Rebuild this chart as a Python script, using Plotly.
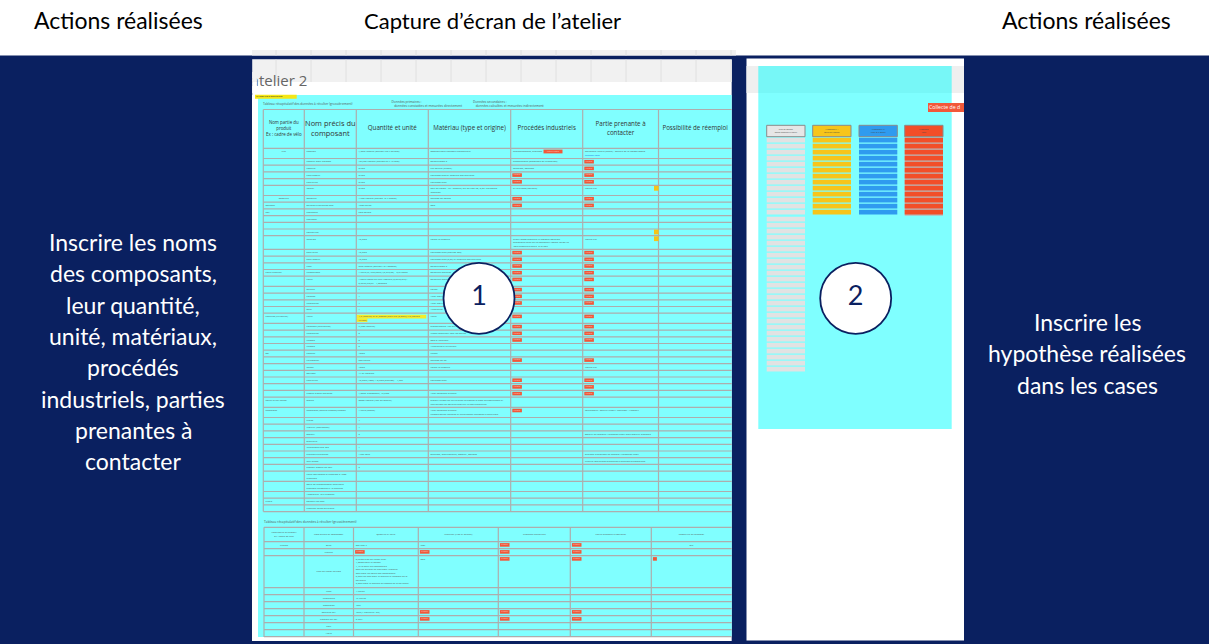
import plotly.graph_objects as go

# ---------------------------------------------------------------- data
slide_titles = ["Actions réalisées", "Capture d’écran de l’atelier", "Actions réalisées"]
left_text = ["Inscrire les noms", "des composants,", "leur quantité,", "unité, matériaux,",
             "procédés", "industriels, parties", "prenantes à", "contacter"]
right_text = ["Inscrire les", "hypothèse réalisées", "dans les cases"]
step_numbers = ["1", "2"]
screenshot_title = "atelier 2"
board_label = "MAISON DE SYSTÈME ÉCO"
table_caption = "Tableau récapitulatif des données à récolter (grossièrement)"
primary_note = ["Données primaires :", "= données constatées et mesurées directement"]
secondary_note = ["Données secondaires :", "= données calculées et mesurées indirectement"]
collect_label = "Collecte de d"

R = "[R]"  # "à récolter" marker
t1_headers = ["Nom partie du<br>produit<br>Ex : cadre de vélo", "Nom précis du<br>composant",
              "Quantité et unité", "Matériau (type et origine)", "Procédés industriels",
              "Partie prenante à<br>contacter", "Possibilité de réemploi"]
t1_rows = [
    ["Mur", "bambou", "1,9m2 linéaire (section 150 x 20 mm)", "Bambou pour bardage thermotraité", "Thermoformage, profilage [R]", "Bâtiments Valerie (Raffin) - Société de la Maison Écobo<br>[L]bambou.com"],
    ["", "réseaux pour bardage", "129,5m linéaire (section 27 x 45 mm)", "Épicéa classe 2", "Tradechnique (marquage ou exposition)", R],
    ["", "Lambris", "31m2", "Pin naturel (Russie)", "Rabotage, ponçage", R],
    ["", "Pare-vapeur", "31m2", "Polypropylène et chlorure polyéthylène", R, R],
    ["", "Pare-pluie", "31m2", "Polypropylène", R, R],
    ["", "Isolant", "31m2", "82% de Coton - lin - chanvre, 8% de liant PE, 0,3% traitement<br>fongicide", "D'Acte FDES (Isolfibre)", "Mathis Fils"],
    ["Ossature", "Ossature", "145m linéaire (section 45 x 95mm)", "Douglas ou épicéa", R, R],
    ["Bardage", "Entrées extérieures bois", "1530 unités", "Bois", R, R],
    ["Toit", "charpente", "bois épicéa", "", "", ""],
    ["", "chevrons", "", "", "", ""],
    ["", "", "", "", "", ""],
    ["", "couverture", "", "", "", ""],
    ["", "isolation", "12,5m2", "Coton lin chanvre", "https://www.ekodirect.fr/isolants/isolation-<br>ecologique/laine-de-lin/panneaux-isolant-coton-lin<br>-bois-chanvre.html?id=3134587", "Mathis Fils"],
    ["", "pare-pluie", "12,5m2", "Polypropylène (environ 3kg)", R, R],
    ["", "pare-vapeur", "12,5m2", "Polypropylène (0,06) et chlorure polyéthylène", R, R],
    ["", "liège", "27m linéaire (section 12 x 200mm)", "Épicéa classe 2", R, R],
    ["Porte d'entrée", "Chambranle", "1 unité (0,17*0,03*2)+(0,9*0,03) = 0,0173m3", "Épicéa ou Douglas", R, R],
    ["", "Porte", "1 porte isolée ou chez capucin (0,07*0,8*2)+<br>0,75*0,9*0,04= 1,0096m3", "Épicéa ou Douglas", R, R],
    ["", "Serrure", "1", "Laiton", R, R],
    ["", "Poignée", "4", "Acier inoxydable", R, R],
    ["", "Charnières", "4", "Acier inoxydable", R, R],
    ["", "Seuil", "1", "Aluminium", "", ""],
    ["Fenêtres (Ultrafiltre)", "Verre", "[Y]4,5 (fenêtre) et 04,800m2 (baie fixe (0,8m2)) x 3 (double<br>[Y]vitrage)", "Verre", R, R],
    ["", "Poignées (intérieures)", "7 (non fenêtré)", "probablement zinc ou acier", R, R],
    ["", "Charnières", "8", "Même matériaux que les portes", R, R],
    ["", "Chassis", "8", "Bois à l'intérieur", R, R],
    ["", "Chassis", "8", "Aluminium à l'extérieur", "", ""],
    ["Sol", "Parquet", "12m2", "Chêne", "", ""],
    ["", "lits parquet", "500 unités", "Douglas ou bd", R, R],
    ["", "isolant", "12m2", "Coton lin chanvre", "", "Mathis Fils"],
    ["", "Solivage", "41 m linéaires", "", "", ""],
    ["", "Pare-pluie", "12,5m2 (130g) + 3,6m2 (environ) = 1,6kg", "Polypropylène", R, R],
    ["", "", "", "", R, R],
    ["", "Plaque d'acier perforée", "1,2mm d'épaisseur, 12,5m2", "Acier galvanisé à chaud", R, R],
    ["Toute la tiny house", "Scotch", "300m linéaire (lien de largeur)", "produit à base de textile avec un adhésif à base de caoutchouc et<br>une surface en polyéthylène sur la face supérieure", "", ""],
    ["Remorque", "Remorque (dernier châssis) châssis", "1 unité (850kg)", "Acier galvanisé à chaud<br>Chassis soudé renforcé et entièrement galvanisé à plein bain.", R, "Fournisseur : OPTIMAUTO F. Fabricant : Vlemmix"],
    ["", "Freins", "4", "", "", ""],
    ["", "Moyeux (Roulement)", "4", "", "", ""],
    ["", "Essieux", "2", "", "", "Essieux de marque Allemande Knott avec moyeux standard"],
    ["", "Électricité", "", "", "", ""],
    ["", "Interphone vers des", "1", "", "", ""],
    ["", "système d'éclairage", "1 par roue", "Éclairage, Stabilisateurs, Bloquez, Équipés", "", "Système d'éclairage de marque Allemande Knott"],
    ["", "tout prises", "", "", "", "Circuits tous prises ordinaires à éclairage automatique"],
    ["", "support plaque de four", "2", "", "", ""],
    ["", "Nous fabriquons et stockage à 4RES<br>branches", "", "", "", ""],
    ["", "Boîte de raccordement électrique<br>standard européen à 13 broches", "", "", "", ""],
    ["", "Adaptateur 13/7 broches", "", "", "", ""],
    ["Pilotis", "poteaux de bois", "", "", "", ""],
    ["", "Plancher béton ou pierre", "", "", "", ""],
]
t1_centered_parts = ["Mur", "Ossature"]
t1_sticky_rows = [5, 11, 12]

t2_headers = ["Nom partie du produit<br>Ex : cadre de vélo", "Nom précis du composant", "Quantité et unité",
              "Matériau (type et origine)", "Procédés industriels", "Partie prenante à contacter",
              "Possibilité de réemploi"]
t2_rows = [
    ["Cuisine", "Evier", "Bac inox ?", "Inox", R, R, "Oui"],
    ["", "Meuble", R, R, R, R, ""],
    ["", "Plan de travail en bois",
     "0,65m2 plan de travail cuisi<br>1,28m2 pour la façade<br>1,1712 pour les rangements<br>8m2 de surface de bois pour l'escalier<br>2m2 pour les côtés des rangements<br>0,5m2 de bois pour le meuble et dessous de la<br>gazinière<br>2,2m2 pour le meuble au dessus de la gazinière",
     "Bois", R, R, "[r]"],
    ["", "Mats", "4 unités", "", "", "", ""],
    ["", "Charnières", "16 unités", "", "", "", ""],
    ["", "Rambarde", "1m2", "", "", "", ""],
    ["", "Bouteille gaz", "10kg (1 bouteille / an)", R, R, R, ""],
    ["", "Plaques feu gaz", "2 feux", R, R, R, ""],
    ["", "Four", "", "", "", "", ""],
    ["", "Hotte", "", "", "", "", ""],
]

hyp_headers = [["Type de donnée", "Donnée manquante à récolter"], ["Hypothèse n°1", "Source de la donnée"],
               ["Hypothèse n°2", "Valeur de la donnée"], ["Hypothèse", "Valeur"]]
hyp_row_counts = [39, 13, 13, 13]

# ---------------------------------------------------------------- style
W, H = 1209, 644
NAVY = "#0A2060"
CYAN = "#80FFFF"
GRID = "#ADADAD"
REDM = "#F2583A"
TXT = "#555555"
FONT_SMALL = "Open Sans"
FONT_SLIDE = "Lato"
SLIDE_SIZE = 23
TITLE_SIZES = [23, 22, 23]

shapes = []


def rect(x0, y0, x1, y1, fill, line=None, lw=0, opacity=1):
    d = dict(type="rect", xref="x", yref="y", x0=x0, y0=y0, x1=x1, y1=y1,
             fillcolor=fill, layer="below", opacity=opacity,
             line=dict(width=lw, color=line or fill))
    if lw == 0:
        d["line"] = dict(width=0)
    shapes.append(d)


def hline(x0, x1, y, color=GRID, w=1.2):
    shapes.append(dict(type="line", xref="x", yref="y", x0=x0, x1=x1, y0=y, y1=y,
                       layer="below", line=dict(color=color, width=w)))


def vline(x, y0, y1, color=GRID, w=1.2):
    shapes.append(dict(type="line", xref="x", yref="y", x0=x, x1=x, y0=y0, y1=y1,
                       layer="below", line=dict(color=color, width=w)))


tx, ty, tt, ts, tc, tp = [], [], [], [], [], []


def text(x, y, s, size=2.4, color=TXT, pos="middle right"):
    tx.append(x); ty.append(y); tt.append(s); ts.append(size); tc.append(color); tp.append(pos)


# ---------------------------------------------------------------- background
rect(0, 55.5, W, H, NAVY)
# screenshot 1
rect(252, 50, 736, 55.5, "#F1F1F1")
rect(252, 59.5, 731.7, 641, "white")
rect(252, 59.5, 731.7, 82, "#F1F1F1")
for gx in range(276, 732, 35):
    shapes.append(dict(type="line", xref="x", yref="y", x0=gx, x1=gx, y0=50, y1=55.5,
                       layer="below", line=dict(color="#E0E0E0", width=1)))
    vline(gx, 59.5, 82, "#E0E0E0", 1)
rect(258, 95, 731.7, 637, CYAN)
# screenshot 2
rect(746.5, 58.5, 964, 640.5, "white")
rect(746.5, 66, 964, 93, "#EFEFEF")
rect(758.3, 66, 951.7, 429, "rgba(0,255,255,0.5)")

# ---------------------------------------------------------------- table 1
T1_X = [263.3, 304.3, 356.3, 428.3, 510.7, 582.7, 658.5, 731.7]
T1_TOP, T1_HEAD = 109.5, 148.3
rect(255, 94.7, 296.7, 98.8, "#F5E616")
text(256, 96.8, board_label, 2.2, "#222222")
text(263, 104.5, table_caption, 3.2)
text(391.5, 101.8, primary_note[0], 3.2); text(391.5, 106.4, primary_note[1], 3.2)
text(473, 101.8, secondary_note[0], 3.2); text(473, 106.4, secondary_note[1], 3.2)


def nlines(row):
    return max(len(str(c).split("<br>")) for c in row)


def marker(x, y, w=9.6, h=3.6, label="à récolter"):
    rect(x, y, x + w, y + h, REDM)
    if label:
        text(x + w / 2, y + h / 2, label, 1.5, "#FFD8CC", "middle center")


def cell(col_x0, top, content, centered=False, height=None):
    if content == R:
        marker(col_x0 + 1.6, top + 1.4)
        return
    if content == "[r]":
        marker(col_x0 + 1.6, top + 1.4, 4, 3.6, "")
        return
    lines = content.split("<br>")
    for i, ln in enumerate(lines):
        color = TXT
        y = top + 3.4 + i * 3.5
        if ln.startswith("[Y]"):
            ln = ln[3:]
            rect(col_x0 + 0.5, y - 1.8, col_x0 + 1.5 + len(ln) * 1.2, y + 1.8, "#F5EC2A")
        if ln.startswith("[L]"):
            ln = ln[3:]
            color = "#1E6FE0"
        inline = ln.endswith(" " + R)
        if inline:
            ln = ln[: -len(R) - 1]
        if centered:
            xc = col_x0 + centered / 2
            if height is not None:
                y = top + height / 2 + (i - (len(lines) - 1) / 2) * 3.5
            text(xc, y, ln, 2.4, color, "middle center")
        else:
            text(col_x0 + 2.2, y, ln, 2.4, color)
        if inline:
            x0 = col_x0 + 4 + len(ln) * 1.2
            rect(x0, top + 1.3, x0 + 19, top + 5.1, REDM)
            text(x0 + 9.5, top + 3.2, "Analyse à récolter", 1.5, "#FFD8CC", "middle center")


# header
for j, h in enumerate(t1_headers):
    xc = (T1_X[j] + T1_X[j + 1]) / 2
    hl = h.split("<br>")
    size = 4.4 if j == 0 else (7.4 if j == 1 else 6.2)
    step = size * 1.35
    for i, ln in enumerate(hl):
        text(xc, (T1_TOP + T1_HEAD) / 2 + (i - (len(hl) - 1) / 2) * step, ln, size, "#333333",
             "middle center")

y = T1_HEAD
row_tops = []
for r, row in enumerate(t1_rows):
    h = 6.7 + 3.5 * (nlines(row) - 1)
    row_tops.append((y, h))
    y += h
T1_BOTTOM = y
hline(T1_X[0], T1_X[-1], T1_TOP)
hline(T1_X[0], T1_X[-1], T1_HEAD)
for (top, h) in row_tops:
    hline(T1_X[0], T1_X[-1], top + h)
for x in T1_X[:-1]:
    vline(x, T1_TOP, T1_BOTTOM)

for r, row in enumerate(t1_rows):
    top, h = row_tops[r]
    for j, c in enumerate(row):
        if c == "":
            continue
        if j == 0 and c in t1_centered_parts:
            cell(T1_X[0], top, c, centered=T1_X[1] - T1_X[0])
        else:
            cell(T1_X[j], top, c)
for r in t1_sticky_rows:
    top, h = row_tops[r]
    rect(654, top + 0.6, 658.6, top + 5.4, "#F5C518")

# ---------------------------------------------------------------- table 2
T2_X = [264, 304, 353.5, 418.3, 498.3, 570.3, 651.3, 731.7]
T2_TOP, T2_HEAD = 527.3, 541.7
text(264, 521.7, table_caption, 3.3)
for j, hd in enumerate(t2_headers):
    xc = (T2_X[j] + T2_X[j + 1]) / 2
    hl = hd.split("<br>")
    for i, ln in enumerate(hl):
        text(xc, (T2_TOP + T2_HEAD) / 2 + (i - (len(hl) - 1) / 2) * 3.4, ln, 2.4, TXT, "middle center")
y = T2_HEAD
t2_tops = []
for row in t2_rows:
    h = 7.0 + 3.57 * (nlines(row) - 1)
    t2_tops.append((y, h))
    y += h
hline(T2_X[0], T2_X[-1], T2_TOP)
hline(T2_X[0], T2_X[-1], T2_HEAD)
for (top, h) in t2_tops:
    if top + h <= 637:
        hline(T2_X[0], T2_X[-1], top + h)
for x in T2_X[:-1]:
    vline(x, T2_TOP, 637)
for r, row in enumerate(t2_rows):
    top, h = t2_tops[r]
    for j, c in enumerate(row):
        if c == "":
            continue
        if j in (0, 1) and c not in (R, "[r]"):
            cell(T2_X[j], top, c, centered=T2_X[j + 1] - T2_X[j], height=h)
        elif j == 6 and c not in (R, "[r]"):
            cell(T2_X[j], top, c, centered=T2_X[j + 1] - T2_X[j])
        else:
            cell(T2_X[j], top, c)

# ---------------------------------------------------------------- hypotheses board
rect(928, 103, 964, 112, "#F2583A")
text(929, 107.6, collect_label, 5.2, "white")
HX = [766.7, 812.7, 859.0, 904.7]
HW = 38.3
head_cols = ["#E6E6E6", "#F7C51A", "#2F9BEF", "#F24E28"]
row_cols = ["#E2E2E2", "#F7C51A", "#2F9BEF", "#F24E28"]
rect(HX[3], 137.5, HX[3] + HW, 215.8, "#B9B9B9")
for k in range(4):
    rect(HX[k], 125.3, HX[k] + HW, 136.7, head_cols[k], "#8A8A8A", 1)
    text(HX[k] + HW / 2, 129.6, hyp_headers[k][0], 1.9, "#444444", "middle center")
    text(HX[k] + HW / 2, 132.6, hyp_headers[k][1], 1.6, "#444444", "middle center")
    for i in range(hyp_row_counts[k]):
        y0 = 137.7 + 6.0 * i + (1.0 if i >= 13 else 0)
        rect(HX[k], y0, HX[k] + HW, y0 + 4.7, row_cols[k])

# ---------------------------------------------------------------- figure
fig = go.Figure()
fig.add_trace(go.Scatter(x=tx, y=ty, text=tt, mode="text", textposition=tp,
                         textfont=dict(size=ts, color=tc, family=FONT_SMALL),
                         hoverinfo="skip", showlegend=False, cliponaxis=False))
# workshop title, cropped on its left edge like the screenshot
fig.add_trace(go.Scatter(x=[250.6], y=[82.5], text=[screenshot_title], mode="text",
                         textposition="middle right",
                         textfont=dict(size=15, color="#666666", family=FONT_SMALL),
                         hoverinfo="skip", showlegend=False))
fig.add_trace(go.Scatter(x=[237, 252.2, 252.2, 237, 237], y=[56, 56, 95, 95, 56], mode="lines",
                         fill="toself", fillcolor=NAVY, line=dict(width=0),
                         hoverinfo="skip", showlegend=False))
fig.add_trace(go.Scatter(x=[252.2, 256.9, 256.9, 252.2, 252.2], y=[72, 72, 82, 82, 72], mode="lines",
                         fill="toself", fillcolor="#F1F1F1", line=dict(width=0),
                         hoverinfo="skip", showlegend=False))
fig.add_trace(go.Scatter(x=[252.2, 256.9, 256.9, 252.2, 252.2], y=[82, 82, 93, 93, 82], mode="lines",
                         fill="toself", fillcolor="white", line=dict(width=0),
                         hoverinfo="skip", showlegend=False))
# step circles
fig.add_trace(go.Scatter(x=[479, 855.7], y=[298.3, 298.3], mode="markers+text",
                         text=step_numbers, textposition="middle center",
                         textfont=dict(size=27, color=NAVY, family=FONT_SLIDE),
                         marker=dict(size=71, color="white", line=dict(color=NAVY, width=1.8)),
                         hoverinfo="skip", showlegend=False))

annotations = []
for s, xc, fs in zip(slide_titles, [118, 492, 1086], TITLE_SIZES):
    annotations.append(dict(x=xc, y=20, text=s, showarrow=False, xanchor="center", yanchor="middle",
                            font=dict(family=FONT_SLIDE, size=fs, color="black")))
for i, s in enumerate(left_text):
    annotations.append(dict(x=133, y=242 + i * 31.3, text=s, showarrow=False, xanchor="center",
                            yanchor="middle", font=dict(family=FONT_SLIDE, size=SLIDE_SIZE, color="white")))
for i, s in enumerate(right_text):
    annotations.append(dict(x=1087, y=322 + i * 31.3, text=s, showarrow=False, xanchor="center",
                            yanchor="middle", font=dict(family=FONT_SLIDE, size=SLIDE_SIZE, color="white")))

fig.update_layout(width=W, height=H, margin=dict(l=0, r=0, t=0, b=0),
                  paper_bgcolor="white", plot_bgcolor="white",
                  xaxis=dict(range=[0, W], visible=False, autorange=False, fixedrange=True),
                  yaxis=dict(range=[H, 0], visible=False, autorange=False, fixedrange=True),
                  shapes=shapes, annotations=annotations, showlegend=False)
fig.write_html("out.html", config={"displayModeBar": False, "staticPlot": True},
               post_script="document.body.style.margin='0';document.body.style.overflow='hidden';")
